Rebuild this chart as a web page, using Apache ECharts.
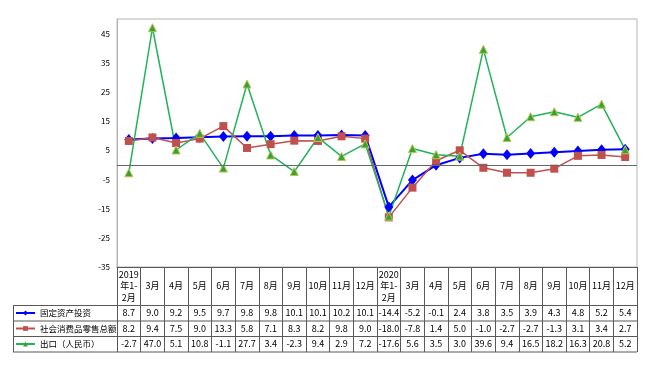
<!DOCTYPE html>
<html>
<head>
<meta charset="utf-8">
<script src="https://cdn.jsdelivr.net/npm/echarts@6/dist/echarts.min.js"></script>
<style>html,body{margin:0;padding:0;background:#fff;}#c{width:658px;height:369px;}</style>
</head>
<body>
<div id="c"></div>
<script>
var categories = ['2019\n年1-\n2月','3月','4月','5月','6月','7月','8月','9月','10月','11月','12月',
  '2020\n年1-\n2月','3月','4月','5月','6月','7月','8月','9月','10月','11月','12月'];
var seriesNames = ['固定资产投资','社会消费品零售总额','出口（人民币）'];
var investment = [8.7,9.0,9.2,9.5,9.7,9.8,9.8,10.1,10.1,10.2,10.1,-14.4,-5.2,-0.1,2.4,3.8,3.5,3.9,4.3,4.8,5.2,5.4];
var retail = [8.2,9.4,7.5,9.0,13.3,5.8,7.1,8.3,8.2,9.8,9.0,-18.0,-7.8,1.4,5.0,-1.0,-2.7,-2.7,-1.3,3.1,3.4,2.7];
var exportRmb = [-2.7,47.0,5.1,10.8,-1.1,27.7,3.4,-2.3,9.4,2.9,7.2,-17.6,5.6,3.5,3.0,39.6,9.4,16.5,18.2,16.3,20.8,5.2];
var yTicks = {min:-35, max:50, interval:10};

var FONT = '"Noto Sans CJK SC", "DejaVu Sans", sans-serif';
var LINE = '#595959';
var idx = categories.map(function(_, i){ return i; });

function rowAxis(values, margin){
  return {
    type:'category', data: idx, position:'bottom', gridIndex:0, boundaryGap:true,
    axisLine:{show:false}, axisTick:{show:false}, splitLine:{show:false},
    axisLabel:{interval:0, margin:margin, verticalAlign:'middle', fontSize:9, color:'#000', fontFamily:FONT,
      formatter:function(v, i){ return values[i].toFixed(1); }}
  };
}

function hline(y){ return {type:'line', silent:true, shape:{x1:13, y1:y+0.5, x2:637, y2:y+0.5}, style:{stroke:LINE, lineWidth:1}}; }

function legendRow(name, top){
  return {data:[name], left:15, top:top, orient:'horizontal', selectedMode:false, itemWidth:19, itemHeight:6, itemGap:4,
    padding:0, itemStyle:{borderWidth:0}, textStyle:{fontSize:8.5, lineHeight:12, color:'#000', fontFamily:FONT}};
}

var chart = echarts.init(document.getElementById('c'), null, {renderer:'canvas'});
chart.setOption({
  animation:false,
  backgroundColor:'#fff',
  grid:{left:117, right:21, top:19, bottom:102, show:true, borderColor:'#b4b4b4', borderWidth:1, containLabel:false},
  legend:[ legendRow(seriesNames[0], 307), legendRow(seriesNames[1], 322.5), legendRow(seriesNames[2], 338) ],
  xAxis:[
    {type:'category', data:categories, position:'bottom', boundaryGap:true,
     axisLine:{show:true, onZero:false, lineStyle:{color:LINE, width:1}},
     axisTick:{show:true, interval:0, length:85, lineStyle:{color:LINE, width:1}},
     axisLabel:{interval:0, margin:19, verticalAlign:'middle', fontSize:9, lineHeight:11.5, color:'#000', fontFamily:FONT},
     splitLine:{show:false}},
    rowAxis(investment, 46),
    rowAxis(retail, 61.5),
    rowAxis(exportRmb, 77)
  ],
  yAxis:{type:'value', min:yTicks.min, max:yTicks.max, interval:yTicks.interval,
    axisLine:{show:true, lineStyle:{color:'#b4b4b4'}}, axisTick:{show:false}, splitLine:{show:false},
    axisLabel:{showMaxLabel:false, fontSize:8, color:'#000', margin:7, fontFamily:FONT}},
  graphic:[ hline(305), hline(320.5), hline(336), hline(351.5),
    {type:'line', silent:true, shape:{x1:13.5, y1:305, x2:13.5, y2:352}, style:{stroke:LINE, lineWidth:1}} ],
  series:[
    {name:seriesNames[0], type:'line', data:investment, xAxisIndex:0,
     symbol:'diamond', symbolSize:[9,11], showAllSymbol:true,
     lineStyle:{color:'#0000ff', width:2}, itemStyle:{color:'#0000ff'},
     markLine:{silent:true, symbol:'none', label:{show:false}, lineStyle:{color:'#666', type:'solid', width:1},
       data:[{yAxis:0}]}},
    {name:seriesNames[1], type:'line', data:retail, xAxisIndex:0,
     symbol:'rect', symbolSize:8, showAllSymbol:true,
     lineStyle:{color:'#c0504d', width:1.5}, itemStyle:{color:'#c0504d'}},
    {name:seriesNames[2], type:'line', data:exportRmb, xAxisIndex:0,
     symbol:'triangle', symbolSize:8, showAllSymbol:true,
     lineStyle:{color:'#1fb35a', width:1.5}, itemStyle:{color:'#3aa03a', borderColor:'#b8c84a', borderWidth:1}}
  ]
});
</script>
</body>
</html>
